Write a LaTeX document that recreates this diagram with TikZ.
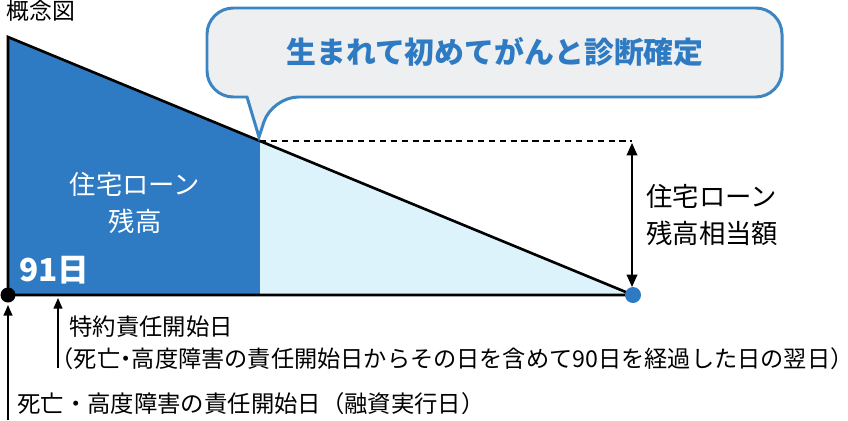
\documentclass[tikz,border=0pt]{standalone}
\usepackage{fontspec}
\setmainfont{Noto Sans CJK JP}
\usetikzlibrary{positioning,arrows.meta}
\definecolor{loanblue}{HTML}{2E7BC4}
\definecolor{paleblue}{HTML}{DDF3FC}
\definecolor{bubblegray}{HTML}{EDEFF0}
\definecolor{bubbleline}{HTML}{3C85C3}

\begin{document}
\begin{tikzpicture}[x=0.02cm, y=-0.02cm,
    lbl/.style={inner sep=0, align=left, font=\fontsize{13.3}{19}\selectfont},
    big/.style={inner sep=0, align=left, font=\fontsize{15}{20.6}\selectfont},
    uparrow/.style={-{Triangle[length=6pt, width=5pt]}, line width=0.9pt}]
      \useasboundingbox (0,0) rectangle (848,420);

      \node[inner sep=0, anchor=west, font=\fontsize{13}{15}\selectfont] (title) at (6,11) {概念図};

      % the two parts of the triangle
      \fill[loanblue] (8,37) -- (260,141) -- (260,295) -- (8,295) -- cycle;
      \fill[paleblue] (260,141) -- (633,295) -- (260,295) -- cycle;
      \draw[line width=1.5pt, line join=miter] (8,295) -- (8,37) -- (633,295) -- cycle;

      \coordinate (diag) at (260,141);
      \coordinate (top) at (632,141);
      \coordinate (start) at (8,295);
      \coordinate (end) at (633,295);

      \draw[dashed, line width=0.8pt, dash pattern=on 3.6pt off 2.6pt] (diag) -- (top);
      \draw[{Triangle[length=7pt, width=6pt]}-{Triangle[length=7pt, width=6pt]}, line width=1pt]
        (632,143) -- (632,287);

      \fill (start) circle (7.5);
      \fill[loanblue] (end) circle (8);

      % speech bubble
      \draw[bubbleline, fill=bubblegray, line width=1.7pt]
        (259,137) -- (247,97) [rounded corners=15] -- (207,97) -- (207,8) -- (782,8) -- (782,97) -- (272,97) [sharp corners] -- cycle;
      \node[inner sep=0, text=loanblue, font=\fontsize{17}{20}\selectfont\bfseries] (news) at (495,52) {生まれて初めてがんと診断確定};

      \node[big, align=center, text=white] (balance) at (135,203) {住宅ローン\\残高};
      \node[inner sep=0, anchor=west, text=white, font=\fontsize{18}{20}\selectfont\bfseries] (day) at (19,270) {91日};
      \node[big, anchor=west] (amount) at (646,215) {住宅ローン\\残高相当額};

      % dates below the axis
      \node[lbl, anchor=west] (rider) at (69,327) {特約責任開始日};
      \node[lbl, anchor=west, font=\fontsize{13.2}{19}\selectfont\addfontfeatures{RawFeature=+halt}] (riderNote) at (62,359) {（死亡・高度障害の責任開始日からその日を含めて90日を経過した日の翌日）};
      \node[lbl, anchor=west] (loan) at (17,404) {死亡・高度障害の責任開始日（融資実行日）};

      \coordinate (riderFoot) at (58,368);
      \coordinate (loanFoot) at (8,420);
      \draw[uparrow] (riderFoot) -- (58,298);
      \draw[uparrow] (loanFoot) -- (8,305);

    \end{tikzpicture}
\end{document}
